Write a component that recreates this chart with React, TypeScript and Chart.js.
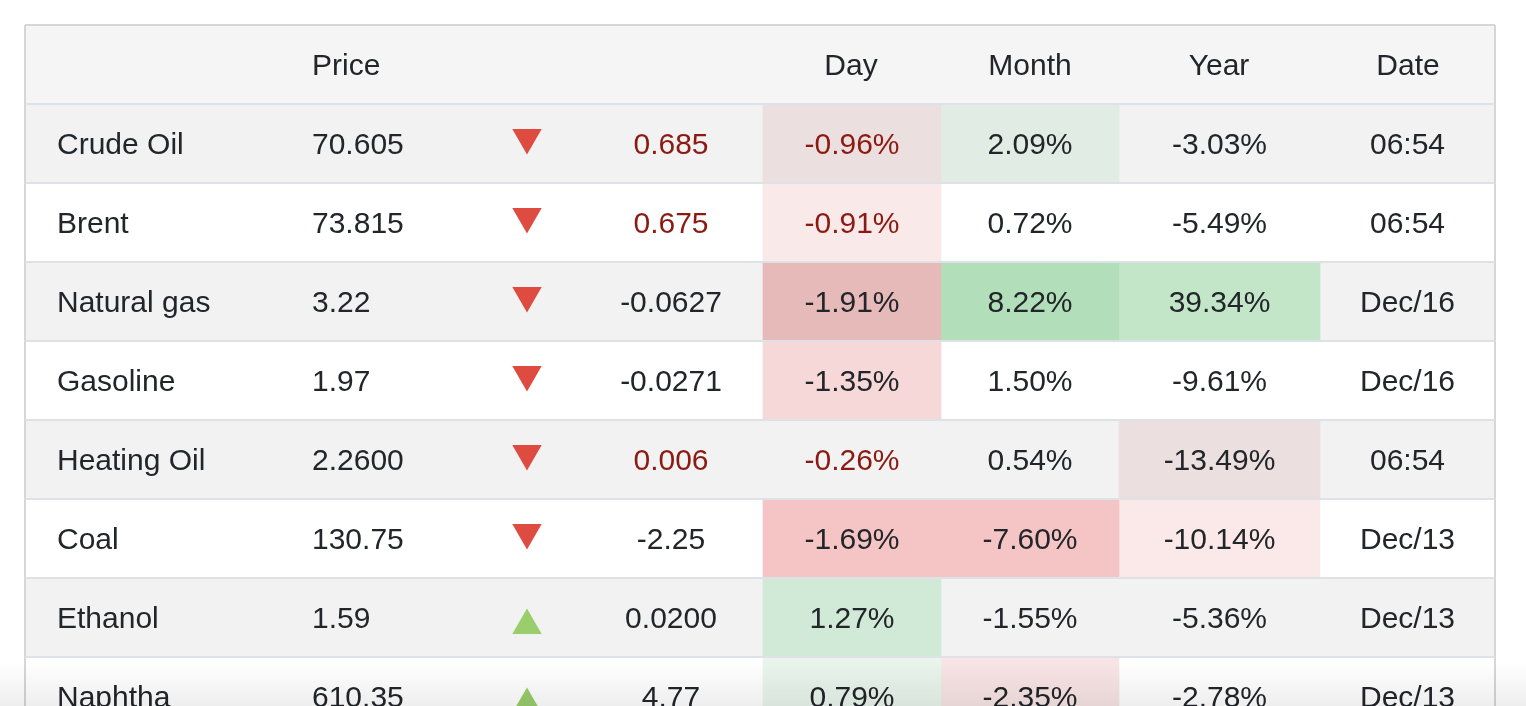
import React, { useEffect, useRef } from 'react';
import { Chart, registerables } from 'chart.js';

Chart.register(...registerables);

// ---------------- data ----------------
const HEADERS = ['', 'Price', '', '', 'Day', 'Month', 'Year', 'Date'];
const NAMES = ['Crude Oil', 'Brent', 'Natural gas', 'Gasoline', 'Heating Oil', 'Coal', 'Ethanol', 'Naphtha'];
const PRICES = ['70.605', '73.815', '3.22', '1.97', '2.2600', '130.75', '1.59', '610.35'];
const DIRECTIONS = ['down', 'down', 'down', 'down', 'down', 'down', 'up', 'up'];
const CHANGES = ['0.685', '0.675', '-0.0627', '-0.0271', '0.006', '-2.25', '0.0200', '4.77'];
const DAY_PCT = [-0.96, -0.91, -1.91, -1.35, -0.26, -1.69, 1.27, 0.79];
const MONTH_PCT = [2.09, 0.72, 8.22, 1.5, 0.54, -7.6, -1.55, -2.35];
const YEAR_PCT = [-3.03, -5.49, 39.34, -9.61, -13.49, -10.14, -5.36, -2.78];
const DATES = ['06:54', '06:54', 'Dec/16', 'Dec/16', '06:54', 'Dec/13', 'Dec/13', 'Dec/13'];
const JUST_UPDATED = [true, true, false, false, true, false, false, false];

// ---------------- styles ----------------
const DAY_FILL = ['#ecdfdf', '#fae9e9', '#e7baba', '#f7d8d8', null, '#f5c4c4', '#d1ead7', '#e9f5ec'];
const MONTH_FILL = ['#e1ece4', null, '#b2dfb9', null, null, '#f5c4c4', null, '#f8e4e4'];
const YEAR_FILL = [null, null, '#c3e6c9', null, '#ecdfdf', '#fbe9e9', null, null];
const HEADER_BG = '#f5f5f5';
const ODD_BG = '#f2f2f2';
const EVEN_BG = '#ffffff';
const TEXT = '#222529';
const TEXT_RED = '#8a1a12';
const ARROW_DOWN = '#dd4b41';
const ARROW_UP = '#9acd6c';
const LINE = '#dee2e6';
const BORDER = '#d6d6d6';
const FONT_PX = 30;
const FONT = `${FONT_PX}px "Liberation Sans", Arial, Helvetica, sans-serif`;

// ---------------- layout (x in px from table's left edge) ----------------
const TABLE_W = 1470;
const X_NAME = 32;
const X_PRICE = 287;
const X_ARROW = 502;
const X_CHANGE = 646;
const DAY_COL = [738, 916];
const MONTH_COL = [916, 1094];
const YEAR_COL = [1094, 1295];
const DATE_COL = [1295, 1470];
const HEADER_X = [0, X_PRICE, 0, 0, 826, 1005, 1194, 1383];
const HEADER_ALIGN = ['left', 'left', 'left', 'left', 'center', 'center', 'center', 'center'];
const ARROW_NUDGE = { down: -6 / 79, up: 8 / 79 };

const ROW_LABELS = ['header', ...NAMES];
const mid = (c: number[]) => (c[0] + c[1]) / 2;
const pct = (v: number) => `${v.toFixed(2)}%`;

const textPlugin = {
  id: 'tableText',
  afterDatasetsDraw(chart: any) {
    const { ctx, scales } = chart;
    const x = scales.x;
    const y = scales.y;
    ctx.save();
    ctx.font = FONT;
    const put = (text: string, xv: number, row: number, align: string, color: string) => {
      ctx.textAlign = align;
      ctx.textBaseline = 'alphabetic';
      ctx.fillStyle = color;
      ctx.fillText(text, x.getPixelForValue(xv), y.getPixelForValue(row) + FONT_PX * 0.36);
    };
    HEADERS.forEach((h, i) => {
      if (h) put(h, HEADER_X[i], 0, HEADER_ALIGN[i], TEXT);
    });
    NAMES.forEach((name, i) => {
      const r = i + 1;
      const red = JUST_UPDATED[i] ? TEXT_RED : TEXT;
      put(name, X_NAME, r, 'left', TEXT);
      put(PRICES[i], X_PRICE, r, 'left', TEXT);
      put(CHANGES[i], X_CHANGE, r, 'center', red);
      put(pct(DAY_PCT[i]), mid(DAY_COL), r, 'center', red);
      put(pct(MONTH_PCT[i]), mid(MONTH_COL), r, 'center', TEXT);
      put(pct(YEAR_PCT[i]), mid(YEAR_COL), r, 'center', TEXT);
      put(DATES[i], mid(DATE_COL), r, 'center', TEXT);
    });
    ctx.restore();
  },
};

const cellDataset = (col: number[], fills: (string | null)[], label: string) => ({
  type: 'bar' as const,
  label,
  indexAxis: 'y' as const,
  data: [null, ...fills.map((f) => (f ? [col[0], col[1]] : null))],
  backgroundColor: ['transparent', ...fills.map((f) => f || 'transparent')],
  borderWidth: 0,
  barPercentage: 1,
  categoryPercentage: 1,
  grouped: false,
  order: 2,
});

export default function App() {
  const ref = useRef<HTMLCanvasElement | null>(null);

  useEffect(() => {
    if (!ref.current) return;
    const rowFills = ROW_LABELS.map((_, i) => (i === 0 ? HEADER_BG : i % 2 === 1 ? ODD_BG : EVEN_BG));
    const chart = new Chart(ref.current, {
      type: 'bar',
      data: {
        labels: ROW_LABELS,
        datasets: [
          {
            type: 'bar',
            label: 'rows',
            indexAxis: 'y',
            data: ROW_LABELS.map(() => [0, TABLE_W]),
            backgroundColor: rowFills,
            borderWidth: 0,
            barPercentage: 1,
            categoryPercentage: 1,
            grouped: false,
            order: 3,
          } as any,
          cellDataset(DAY_COL, DAY_FILL, 'Day') as any,
          cellDataset(MONTH_COL, MONTH_FILL, 'Month') as any,
          cellDataset(YEAR_COL, YEAR_FILL, 'Year') as any,
          {
            type: 'scatter',
            label: 'arrows',
            yAxisID: 'yArrow',
            data: DIRECTIONS.map((d, i) => ({ x: X_ARROW, y: i + 1 + (ARROW_NUDGE as any)[d] })),
            pointStyle: 'triangle',
            pointRadius: 17,
            pointHoverRadius: 17,
            pointRotation: DIRECTIONS.map((d) => (d === 'down' ? 180 : 0)),
            backgroundColor: DIRECTIONS.map((d) => (d === 'down' ? ARROW_DOWN : ARROW_UP)),
            borderWidth: 0,
            order: 1,
          } as any,
        ],
      },
      options: {
        animation: false,
        responsive: true,
        maintainAspectRatio: false,
        events: [],
        layout: { padding: { left: 25, right: 31, top: 25, bottom: 24 } },
        plugins: { legend: { display: false }, tooltip: { enabled: false } },
        scales: {
          x: {
            type: 'linear',
            min: 0,
            max: TABLE_W,
            offset: false,
            afterBuildTicks: (s: any) => {
              s.ticks = [{ value: 0 }, { value: TABLE_W }];
            },
            ticks: { display: false },
            grid: { color: BORDER, lineWidth: 2, drawTicks: false, offset: false, z: 1 },
            border: { display: false },
          },
          y: {
            type: 'category',
            labels: ROW_LABELS,
            offset: true,
            ticks: { display: false },
            grid: {
              offset: true,
              drawTicks: false,
              lineWidth: 2,
              z: 1,
              color: (c: any) => (c.index === 0 ? BORDER : LINE),
            },
            border: { display: false },
          },
          yArrow: {
            type: 'linear',
            display: false,
            reverse: true,
            offset: false,
            min: -0.5,
            max: ROW_LABELS.length - 0.5,
          },
        },
      } as any,
      plugins: [textPlugin],
    });
    return () => chart.destroy();
  }, []);

  return (
    <div style={{ position: 'absolute', left: 0, top: 0, width: 1526, height: 706, overflow: 'hidden', background: '#fff' }}>
      <div style={{ position: 'relative', width: 1526, height: 760 }}>
        <canvas ref={ref} />
      </div>
      <div
        style={{
          position: 'absolute',
          left: 0,
          bottom: 0,
          width: '100%',
          height: 44,
          pointerEvents: 'none',
          background: 'linear-gradient(to bottom, rgba(0,0,0,0), rgba(0,0,0,0.065))',
        }}
      />
    </div>
  );
}
